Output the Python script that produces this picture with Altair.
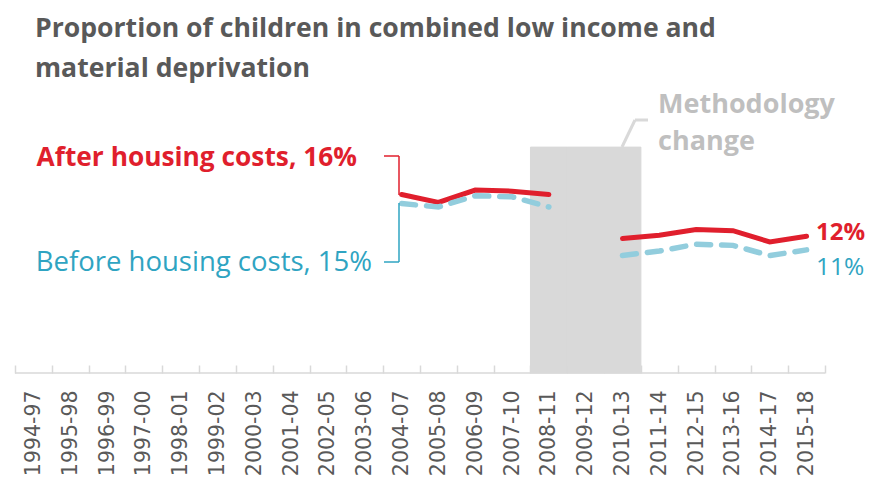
import altair as alt
import pandas as pd

# ---------------- data ----------------
years = ["1994-97", "1995-98", "1996-99", "1997-00", "1998-01", "1999-02",
         "2000-03", "2001-04", "2002-05", "2003-06", "2004-07", "2005-08",
         "2006-09", "2007-10", "2008-11", "2009-12", "2010-13", "2011-14",
         "2012-15", "2013-16", "2014-17", "2015-18"]
ahc = [None] * 10 + [15.8, 15.1, 16.2, 16.1, 15.8, None, 11.9, 12.2, 12.7, 12.6, 11.6, 12.1]
bhc = [None] * 10 + [15.0, 14.7, 15.7, 15.6, 14.7, None, 10.4, 10.8, 11.4, 11.3, 10.4, 10.9]
method_years = ["2008-11", "2009-12", "2010-13"]
method_height = [20, 20, 20]

title_lines = ["Proportion of children in combined low income and", "material deprivation"]

# ---------------- tables ----------------
break_idx = years.index("2009-12")
rows = []
for i, (yr, a, b) in enumerate(zip(years, ahc, bhc)):
    seg = "before" if i < break_idx else "after"
    rows.append({"year": yr, "ahc": a, "bhc": b, "seg": seg})
df = pd.DataFrame(rows)
ahc_df = df.dropna(subset=["ahc"])
bhc_df = df.dropna(subset=["bhc"])
method_df = pd.DataFrame({"year": method_years, "h": method_height})
one = pd.DataFrame({"k": [0]})

# ---------------- style ----------------
W, H = 810, 288
RED = "#E01F2D"
BLUE_LINE = "#92CDDD"
BLUE_TEXT = "#2FA4C2"
GREY_TXT = "#595959"
BOX = "#D9D9D9"
FONT = "Open Sans"

xscale = alt.Scale(domain=years, type="band", paddingInner=0, paddingOuter=0)
yscale = alt.Scale(domain=[0, 25.5], nice=False, zero=False)
x_axis = alt.Axis(title=None, labelAngle=-90, labelFont="DejaVu Sans", labelFontSize=20.5,
                  labelColor=GREY_TXT, tickBand="extent", tickSize=8, tickColor=BOX,
                  tickWidth=1.5, offset=-8, domain=False, labelPadding=17, grid=False,
                  labelOverlap=False)

bars = alt.Chart(method_df).mark_bar(color=BOX, stroke=BOX, strokeWidth=1).encode(
    x=alt.X("year:N", scale=xscale, axis=x_axis, sort=None),
    y=alt.Y("h:Q", scale=yscale, axis=None),
)

domain_line = alt.Chart(one).mark_rule(color=BOX, strokeWidth=1.5).encode(
    x=alt.value(0), x2=alt.value(W), y=alt.value(H)
)

ahc_line = alt.Chart(ahc_df).mark_line(color=RED, strokeWidth=5, strokeCap="round").encode(
    x=alt.X("year:N", scale=xscale, axis=x_axis, sort=None, bandPosition=0.5),
    y=alt.Y("ahc:Q", scale=yscale, axis=None),
    detail="seg:N",
)
bhc_line = alt.Chart(bhc_df).mark_line(color=BLUE_LINE, strokeWidth=5.5, strokeCap="round",
                                       strokeDash=[14, 11]).encode(
    x=alt.X("year:N", scale=xscale, axis=x_axis, sort=None, bandPosition=0.5),
    y=alt.Y("bhc:Q", scale=yscale, axis=None),
    detail="seg:N",
)


def rule(x, x2, y, y2, color, width):
    return alt.Chart(one).mark_rule(color=color, strokeWidth=width).encode(
        x=alt.value(x), x2=alt.value(x2), y=alt.value(y), y2=alt.value(y2))


def label(text, x, y, color, weight, size, align="left"):
    return alt.Chart(one).mark_text(text=text, color=color, font=FONT, fontSize=size,
                                    fontWeight=weight, align=align,
                                    baseline="alphabetic").encode(
        x=alt.value(x), y=alt.value(y))


connectors = [
    rule(369, 384, 71, 71, RED, 1.5),
    rule(384, 384, 71, 110, RED, 1.5),
    rule(384, 384, 118, 177, BLUE_TEXT, 1.5),
    rule(369, 384, 177, 177, BLUE_TEXT, 1.5),
    rule(607, 620, 62, 35, BOX, 3),
    rule(620, 633, 35, 35, BOX, 3),
]

labels = [
    label("After housing costs, 16%", 342, 81, RED, "bold", 26.3, "right"),
    label("Before housing costs, 15%", 357, 186, BLUE_TEXT, "normal", 27.5, "right"),
    label("12%", 801, 155, RED, "bold", 24),
    label("11%", 801, 190, BLUE_TEXT, "normal", 24.5),
    label("Methodology", 643, 28, "#BFBFBF", "bold", 27),
    label("change", 643, 65, "#BFBFBF", "bold", 27),
]

chart = alt.layer(bars, domain_line, ahc_line, bhc_line, *connectors, *labels).properties(
    width=W, height=H,
    autosize=alt.AutoSizeParams(type="none"),
    padding={"left": 7, "top": 77, "right": 43, "bottom": 108},
    title=alt.TitleParams(text=title_lines, anchor="start", frame="group", dx=20,
                          offset=-19, font=FONT, fontSize=26.6, fontWeight="bold",
                          color=GREY_TXT, lineHeight=40, baseline="alphabetic"),
).configure_view(stroke=None)

chart.save("out.html", embed_options={"renderer": "svg", "actions": False})
